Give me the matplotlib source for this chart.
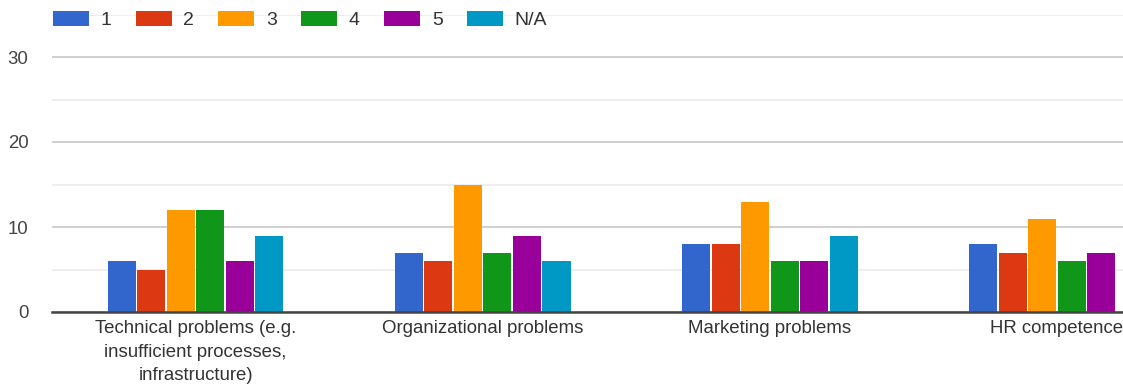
import numpy as np
import matplotlib.pyplot as plt
from matplotlib.patches import Patch
from matplotlib.ticker import MultipleLocator

plt.rcParams['font.family'] = ['Liberation Sans', 'DejaVu Sans']

categories = ["Technical problems (e.g.\ninsufficient processes,\ninfrastructure)",
              "Organizational problems",
              "Marketing problems",
              "HR competence"]
series_names = ["1", "2", "3", "4", "5", "N/A"]
vals_1 = [6, 7, 8, 8]
vals_2 = [5, 6, 8, 7]
vals_3 = [12, 15, 13, 11]
vals_4 = [12, 7, 6, 6]
vals_5 = [6, 9, 6, 7]
vals_na = [9, 6, 9, np.nan]
colors = ["#3366cc", "#dc3912", "#ff9900", "#109618", "#990099", "#0099c6"]

series = [vals_1, vals_2, vals_3, vals_4, vals_5, vals_na]

W, H = 1123, 392
fig = plt.figure(figsize=(W / 100, H / 100), dpi=100)
ax = fig.add_axes([52 / W, 80 / H, 1 - 52 / W, (312 - 14.5) / H])

x = np.arange(len(categories))
step = 0.1028
for i, (vals, c) in enumerate(zip(series, colors)):
    ax.bar(x + (i - 2.5) * step, vals, width=step * 0.95, color=c,
           linewidth=0, zorder=3)

ax.set_xlim(-0.5, 3.23)
ax.set_ylim(0, 35)
ax.set_yticks([0, 10, 20, 30])
ax.yaxis.set_minor_locator(MultipleLocator(5))
ax.grid(axis='y', which='major', color='#cccccc', linewidth=1.3, zorder=0)
ax.grid(axis='y', which='minor', color='#ebebeb', linewidth=1.2, zorder=0)
for s in ['top', 'right', 'left']:
    ax.spines[s].set_visible(False)
ax.spines['bottom'].set_color('#444444')
ax.spines['bottom'].set_linewidth(1.8)
ax.spines['bottom'].set_zorder(4)

ax.set_xticks(x)
ax.set_xticklabels(categories, fontsize=13.4, color='#333333', linespacing=1.5)
ax.tick_params(axis='x', length=0, pad=6)
ax.tick_params(axis='y', which='both', length=0, pad=17, labelsize=13.4,
               labelcolor='#444444')

handles = [Patch(facecolor=c, label=n) for c, n in zip(colors, series_names)]
fig.legend(handles=handles, loc='center left', bbox_to_anchor=(45 / W, 1 - 20 / H),
           ncol=6, frameon=False, fontsize=14, handlelength=1.85,
           handleheight=0.85, handletextpad=0.6, columnspacing=1.25,
           labelcolor='#333333', borderaxespad=0)

fig.savefig("out.png", dpi=100, facecolor='white')
